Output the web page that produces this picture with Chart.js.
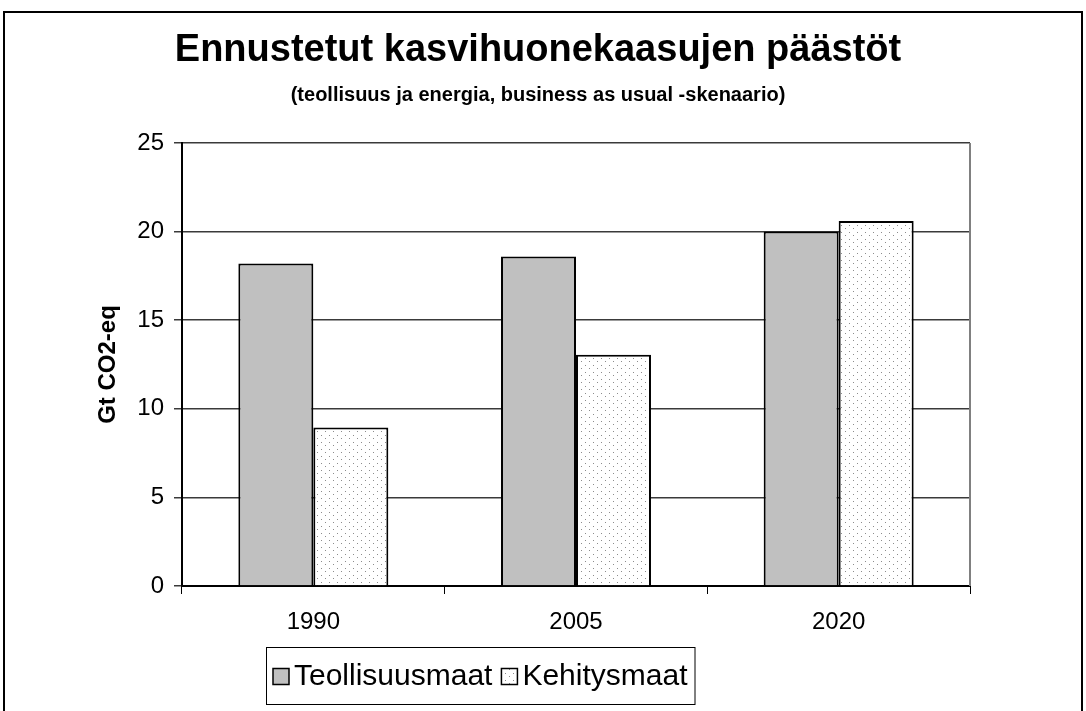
<!DOCTYPE html>
<html>
<head>
<meta charset="utf-8">
<script src="https://cdn.jsdelivr.net/npm/chart.js@4.4.1/dist/chart.umd.min.js"></script>
<style>
  body { margin: 0; background: #fff; }
</style>
</head>
<body>
<canvas id="paastot" width="1086" height="711"></canvas>
<script>
// arvot luettu kuvasta (Gt CO2-eq)
const vuodet = ["1990", "2005", "2020"];
const teollisuusmaat = [18.2, 18.6, 20.0];
const kehitysmaat = [8.95, 13.05, 20.6];
const sarjat = ["Teollisuusmaat", "Kehitysmaat"];
const yMax = 25;
const yStep = 5;

const FONT = "'Liberation Sans', Arial, sans-serif";

// pisterasteri Kehitysmaat-pylväille
function pisteKuvio() {
  const c = document.createElement("canvas");
  c.width = 8;
  c.height = 7;
  const g = c.getContext("2d");
  g.fillStyle = "#fff";
  g.fillRect(0, 0, 8, 7);
  g.fillStyle = "#8c8c8c";
  g.fillRect(1, 1, 1, 1);
  g.fillRect(5, 4, 1, 1);
  return g.createPattern(c, "repeat");
}

const kuvio = pisteKuvio();

// kehys koko kuvan ympäri + kuva-alueen oikea reuna
const kehys = {
  id: "kehys",
  beforeDraw(chart) {
    const ctx = chart.ctx;
    ctx.save();
    ctx.fillStyle = "#fff";
    ctx.fillRect(0, 0, chart.width, chart.height);
    ctx.strokeStyle = "#000";
    ctx.lineWidth = 2;
    ctx.strokeRect(4, 12, chart.width - 8, chart.height + 20);
    ctx.restore();
  },
  afterDatasetsDraw(chart) {
    const a = chart.chartArea;
    const ctx = chart.ctx;
    ctx.save();
    ctx.strokeStyle = "#808080";
    ctx.lineWidth = 2;
    ctx.beginPath();
    ctx.moveTo(a.right, a.top);
    ctx.lineTo(a.right, a.bottom);
    ctx.stroke();
    ctx.restore();
  }
};

// selite laatikossa kuvan alla
const selite = {
  id: "selite",
  afterDraw(chart) {
    const ctx = chart.ctx;
    ctx.save();
    ctx.font = "30px " + FONT;
    ctx.textBaseline = "middle";
    const ruutu = 16, vali = 5, vali2 = 9, reunus = 7;
    const leveydet = sarjat.map(s => ctx.measureText(s).width);
    let kok = reunus * 2;
    leveydet.forEach((w, i) => { kok += ruutu + vali + w + (i ? vali2 : 0); });
    const keski = 480;
    const x0 = Math.round(keski - kok / 2);
    const y0 = 647, h = 57;
    ctx.strokeStyle = "#000";
    ctx.lineWidth = 1;
    ctx.strokeRect(x0 + 0.5, y0 + 0.5, kok, h);
    let x = x0 + reunus;
    const ym = y0 + h / 2 + 1;
    chart.data.datasets.forEach((ds, i) => {
      if (i) x += vali2;
      ctx.fillStyle = ds.backgroundColor;
      ctx.fillRect(x, ym - ruutu / 2, ruutu, ruutu);
      ctx.lineWidth = 1.5;
      ctx.strokeRect(x, ym - ruutu / 2, ruutu, ruutu);
      x += ruutu + vali;
      ctx.fillStyle = "#000";
      ctx.fillText(ds.label, x, ym);
      x += leveydet[i];
    });
    ctx.restore();
  }
};

new Chart(document.getElementById("paastot"), {
  type: "bar",
  data: {
    labels: vuodet,
    datasets: [
      {
        label: sarjat[0],
        data: teollisuusmaat,
        backgroundColor: "#c0c0c0",
        borderColor: "#000",
        borderWidth: 2
      },
      {
        label: sarjat[1],
        data: kehitysmaat,
        backgroundColor: kuvio,
        borderColor: "#000",
        borderWidth: 2
      }
    ]
  },
  options: {
    responsive: false,
    animation: false,
    layout: { padding: { top: 10, left: 0, right: 10, bottom: 0 } },
    datasets: {
      bar: { categoryPercentage: 0.571, barPercentage: 1.0 }
    },
    scales: {
      x: {
        grid: {
          offset: true,
          drawOnChartArea: false,
          color: "#000",
          tickLength: 8
        },
        border: { color: "#000", width: 2 },
        ticks: { color: "#000", font: { family: FONT, size: 24 }, padding: 14 },
        afterFit(s) { s.height = 125; }
      },
      y: {
        min: 0,
        max: yMax,
        ticks: { stepSize: yStep, color: "#000", font: { family: FONT, size: 24 }, padding: 10 },
        grid: { color: "#3a3a3a", lineWidth: 1.5, tickLength: 8 },
        border: { color: "#000", width: 2 },
        title: {
          display: true,
          text: "Gt CO2-eq",
          color: "#000",
          font: { family: FONT, size: 24, weight: "bold" },
          padding: { top: 94, bottom: 0 }
        },
        afterFit(s) { s.width = 182; }
      },
      // tyhjä oikea akseli: jättää tilan kuva-alueen oikealle puolelle
      oikea: {
        type: "linear",
        position: "right",
        grid: { display: false },
        border: { display: false },
        ticks: { display: false },
        afterFit(s) { s.width = 106; }
      }
    },
    plugins: {
      legend: { display: false },
      tooltip: { enabled: false },
      title: {
        display: true,
        text: "Ennustetut kasvihuonekaasujen päästöt",
        color: "#000",
        font: { family: FONT, size: 38, weight: "bold" },
        padding: { top: 18, bottom: 0 }
      },
      subtitle: {
        display: true,
        text: "(teollisuus ja energia, business as usual -skenaario)",
        color: "#000",
        font: { family: FONT, size: 20, weight: "bold" },
        padding: { top: 9.4, bottom: 36 }
      }
    }
  },
  plugins: [kehys, selite]
});
</script>
</body>
</html>
